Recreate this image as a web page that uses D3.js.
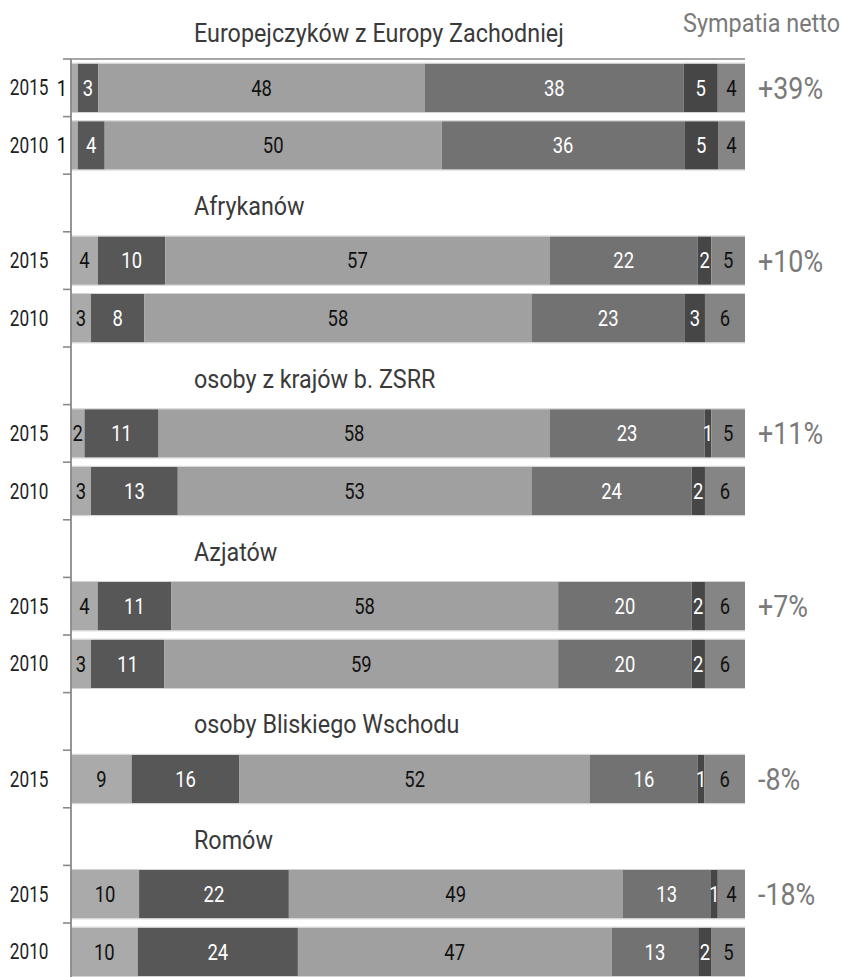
<!DOCTYPE html>
<html>
<head>
<meta charset="utf-8">
<script src="https://cdn.jsdelivr.net/npm/d3@7"></script>
<style>
  html, body { margin: 0; padding: 0; background: #fff; }
  svg { display: block; font-family: Roboto, "Noto Sans", sans-serif; }
</style>
</head>
<body>
<div id="chart"></div>
<script>
// ---------- DATA ----------
const groups = ["Europejczyków z Europy Zachodniej", "Afrykanów", "osoby z krajów b. ZSRR", "Azjatów", "osoby Bliskiego Wschodu", "Romów"];
const groupYears = [["2015", "2010"], ["2015", "2010"], ["2015", "2010"], ["2015", "2010"], ["2015"], ["2015", "2010"]];
const europe = [[1, 3, 48, 38, 5, 4], [1, 4, 50, 36, 5, 4]];
const africa = [[4, 10, 57, 22, 2, 5], [3, 8, 58, 23, 3, 6]];
const ussr = [[2, 11, 58, 23, 1, 5], [3, 13, 53, 24, 2, 6]];
const asia = [[4, 11, 58, 20, 2, 6], [3, 11, 59, 20, 2, 6]];
const middleEast = [[9, 16, 52, 16, 1, 6]];
const roma = [[10, 22, 49, 13, 1, 4], [10, 24, 47, 13, 2, 5]];
const groupValues = [europe, africa, ussr, asia, middleEast, roma];
const netLabels = ["+39%", "+10%", "+11%", "+7%", "-8%", "-18%"];
const netTitle = "Sympatia netto";
const segKeys = ["s0", "s1", "s2", "s3", "s4", "s5"];

// ---------- STYLE ----------
const segColors = ["#aaaaaa", "#575757", "#a0a0a0", "#727272", "#464646", "#858585"];
const segText = ["#111", "#fff", "#111", "#fff", "#fff", "#111"];
const SX = 0.88; // horizontal condensing to mimic a condensed face

const W = 843, H = 977;
const svg = d3.select("#chart").append("svg").attr("width", W).attr("height", H);

// Build the row list: a title row for each group followed by its year rows
const rows = [];
groups.forEach((g, gi) => {
  rows.push({ id: "t" + gi, type: "title", label: g, gi });
  groupYears[gi].forEach((yr, yi) => {
    const vals = groupValues[gi][yi];
    const d = { id: "r" + gi + "_" + yr, type: "bar", year: yr, gi, first: yi === 0 };
    segKeys.forEach((k, i) => d[k] = vals[i]);
    rows.push(d);
  });
});

const x = d3.scaleLinear().domain([0, 1]).range([71, 745]);
const y = d3.scaleBand().domain(rows.map(r => r.id)).range([1.4, 980.6]).paddingInner(0.16).paddingOuter(0.08);
const step = y.step();
const off = step * 0.08;

const barRows = rows.filter(r => r.type === "bar");
const stack = d3.stack().keys(segKeys).offset(d3.stackOffsetExpand);
const series = stack(barRows);

function ctext(sel, tx, ty, sx) {
  return sel.attr("transform", `translate(${tx},${ty}) scale(${sx || SX},1)`);
}

// top rule
const axisTop = y(rows[1].id) - off;
svg.append("line").attr("x1", x(0)).attr("x2", x(1)).attr("y1", axisTop).attr("y2", axisTop)
  .attr("stroke", "#8a8a8a").attr("stroke-width", 1.6);

// bars
const gSeries = svg.append("g").selectAll("g").data(series).join("g")
  .attr("fill", (d, i) => segColors[i]);
gSeries.selectAll("rect").data(d => d).join("rect")
  .attr("x", d => x(d[0])).attr("width", d => x(d[1]) - x(d[0]))
  .attr("y", d => y(d.data.id)).attr("height", y.bandwidth());

// light edges of bars
const edges = svg.append("g").attr("stroke", "#d4d4d4").attr("stroke-width", 1);
barRows.forEach(r => {
  edges.append("line").attr("x1", x(0)).attr("x2", x(1)).attr("y1", y(r.id) - 0.5).attr("y2", y(r.id) - 0.5);
  edges.append("line").attr("x1", x(0)).attr("x2", x(1)).attr("y1", y(r.id) + y.bandwidth() + 0.5).attr("y2", y(r.id) + y.bandwidth() + 0.5);
});

// segment labels
const fsLab = 22.5;
series.forEach((s, si) => {
  s.forEach(d => {
    const v = d.data[segKeys[si]];
    const x0 = x(d[0]), x1 = x(d[1]);
    const cy = y(d.data.id) + y.bandwidth() / 2 + 7.8;
    const narrowFirst = si === 0 && (x1 - x0) < 10;
    const t = svg.append("text").text(v)
      .attr("font-size", fsLab)
      .attr("fill", narrowFirst ? "#111" : segText[si])
      .attr("text-anchor", narrowFirst ? "end" : "middle");
    ctext(t, narrowFirst ? x0 - 4 : (x0 + x1) / 2, cy, 0.82);
  });
});

// y axis
const yAxisLine = svg.append("g");
yAxisLine.append("line").attr("x1", 71).attr("x2", 71).attr("y1", axisTop).attr("y2", 980.6)
  .attr("stroke", "#8a8a8a").attr("stroke-width", 1.8);
rows.slice(1).forEach((r, i) => {
  const ty = y(r.id) - off;
  yAxisLine.append("line").attr("x1", 63).attr("x2", 71).attr("y1", ty).attr("y2", ty)
    .attr("stroke", "#8a8a8a").attr("stroke-width", 1.6);
});
const last = rows[rows.length - 1];
yAxisLine.append("line").attr("x1", 63).attr("x2", 71)
  .attr("y1", y(last.id) + y.bandwidth() + off).attr("y2", y(last.id) + y.bandwidth() + off)
  .attr("stroke", "#8a8a8a").attr("stroke-width", 1.6);

// year labels
barRows.forEach(r => {
  const t = svg.append("text").text(r.year).attr("font-size", 21.5).attr("fill", "#222")
    .attr("text-anchor", "end");
  ctext(t, 48.5, y(r.id) + y.bandwidth() / 2 + 7.6, 0.8);
});

// group titles
rows.filter(r => r.type === "title").forEach(r => {
  const t = svg.append("text").text(r.label).attr("font-size", 26.5).attr("fill", "#3a3a3a")
    .attr("text-anchor", "start");
  ctext(t, 194, y(r.id) + y.bandwidth() / 2 + 12);
});

// net sympathy
const tt = svg.append("text").text(netTitle).attr("font-size", 26).attr("fill", "#7a7a7a")
  .attr("text-anchor", "end");
ctext(tt, 840, 31.7, 0.9);
barRows.filter(r => r.first).forEach(r => {
  const t = svg.append("text").text(netLabels[r.gi]).attr("font-size", 30.5).attr("fill", "#7a7a7a")
    .attr("text-anchor", "start");
  ctext(t, 758, y(r.id) + y.bandwidth() / 2 + 11);
});
</script>
</body>
</html>
